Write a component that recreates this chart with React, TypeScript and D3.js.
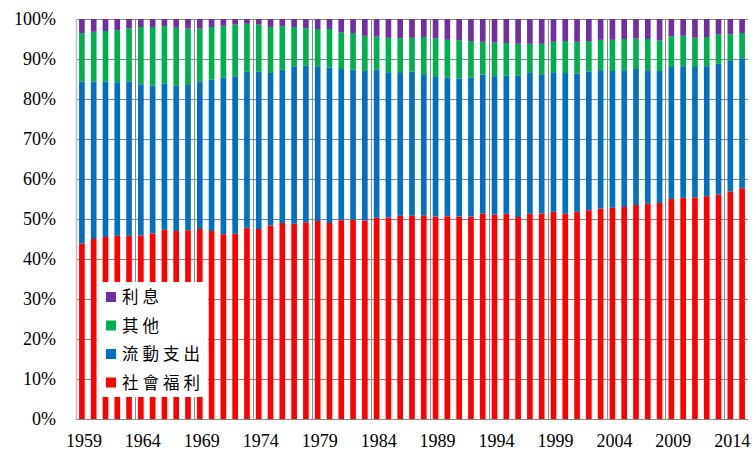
import React from 'react';
import * as d3 from 'd3';

const W = 755;
const H = 450;
const M = { top: 19, right: 7, bottom: 31, left: 76 };

const years = d3.range(1959, 2016);

// share of total spending, %
const welfare = [
  43.9, 45.0, 45.5, 45.8, 45.8, 45.9, 46.4, 47.3, 47.0, 47.2,
  47.5, 47.0, 46.2, 46.3, 47.8, 47.5, 48.4, 49.0, 48.8, 49.2,
  49.5, 49.0, 49.7, 49.8, 49.6, 50.3, 50.4, 50.8, 50.8, 50.8,
  50.6, 50.7, 50.6, 50.6, 51.4, 51.1, 51.3, 50.5, 51.3, 51.4,
  51.8, 51.3, 51.8, 52.2, 52.6, 52.8, 53.0, 53.5, 53.8, 54.0,
  55.0, 55.3, 55.4, 55.7, 56.1, 56.9, 57.7,
];
const current = [
  40.5, 39.4, 38.9, 38.4, 38.5, 37.8, 37.0, 36.5, 36.3, 36.3,
  36.9, 37.8, 39.1, 39.4, 39.0, 39.3, 38.1, 38.3, 39.4, 39.2,
  38.7, 38.9, 37.8, 37.5, 37.4, 37.0, 36.3, 35.7, 36.0, 35.4,
  34.9, 34.6, 34.5, 34.7, 34.7, 34.6, 34.5, 35.3, 35.4, 34.8,
  34.9, 35.2, 34.6, 34.7, 34.6, 34.2, 34.2, 34.0, 33.4, 33.0,
  33.0, 32.9, 32.6, 32.5, 32.7, 32.6, 32.5,
];
const other = [
  12.1, 12.4, 12.6, 13.0, 13.3, 14.3, 14.6, 14.4, 14.5, 14.1,
  13.2, 13.2, 13.0, 12.9, 12.0, 11.8, 11.5, 10.9, 9.8, 9.3,
  9.3, 9.6, 9.1, 9.2, 8.8, 8.3, 8.6, 8.7, 8.5, 9.3,
  9.7, 9.5, 9.6, 9.2, 8.2, 8.4, 8.2, 8.0, 7.1, 7.6,
  7.6, 8.0, 7.9, 7.6, 7.6, 7.8, 7.8, 7.6, 7.8, 7.6,
  7.7, 7.6, 7.3, 7.3, 7.3, 6.7, 6.3,
];
const interest = [
  3.5, 3.2, 3.0, 2.8, 2.4, 2.0, 2.0, 1.8, 2.2, 2.4,
  2.4, 2.0, 1.7, 1.4, 1.2, 1.4, 2.0, 1.8, 2.0, 2.3,
  2.5, 2.5, 3.4, 3.5, 4.2, 4.4, 4.7, 4.8, 4.7, 4.5,
  4.8, 5.2, 5.3, 5.5, 5.7, 5.9, 6.0, 6.2, 6.2, 6.2,
  5.7, 5.5, 5.7, 5.5, 5.2, 5.2, 5.0, 4.9, 5.0, 5.4,
  4.3, 4.2, 4.7, 4.5, 3.9, 3.8, 3.5,
];

const seriesKeys = ['welfare', 'current', 'other', 'interest'];
const seriesNames = ['社會福利', '流動支出', '其他', '利息'];
const seriesColors = ['#FF0000', '#0070C0', '#00B050', '#7030A0'];

const yTicks = d3.range(0, 11).map((d) => d / 10);
const labelYears = years.filter((y) => (y - 1959) % 5 === 0);

const serif = '"Liberation Serif", "Times New Roman", serif';

export default function App() {
  const innerW = W - M.left - M.right;
  const y0 = M.top + 400;
  const pad = 0.52;

  const x = d3
    .scaleBand<number>()
    .domain(years)
    .range([M.left, M.left + innerW])
    .paddingInner(pad)
    .paddingOuter(pad / 2);
  const y = d3.scaleLinear().domain([0, 1]).range([y0, M.top]);
  const step = x.step();

  const rows = years.map((yr, i) => {
    const tot = welfare[i] + current[i] + other[i] + interest[i];
    return {
      year: yr,
      welfare: welfare[i] / tot,
      current: current[i] / tot,
      other: other[i] / tot,
      interest: interest[i] / tot,
    };
  });
  const stacked = d3.stack<any>().keys(seriesKeys)(rows);
  const fmt = d3.format('.0%');

  // vertical separators every 5 categories
  const vLines = years.filter((yr, i) => i > 0 && i % 5 === 0);

  const legendX = 97;
  const legendY = 282;
  const rowH = 28.5;

  return (
    <svg
      width={W}
      height={H}
      style={{ position: 'absolute', left: 0, top: 0, background: '#fff' }}
    >
      {/* horizontal gridlines */}
      {yTicks.map((t) => (
        <line
          key={'h' + t}
          x1={M.left}
          x2={M.left + innerW}
          y1={Math.round(y(t)) + 0.5}
          y2={Math.round(y(t)) + 0.5}
          stroke="#8a8a8a"
          strokeWidth={1}
        />
      ))}
      {/* vertical gridlines */}
      {vLines.map((yr) => {
        const vx = Math.round((x(yr) as number) - (step * pad) / 2) + 0.5;
        return (
          <line key={'v' + yr} x1={vx} x2={vx} y1={M.top} y2={y0} stroke="#8a8a8a" strokeWidth={1} />
        );
      })}
      <line x1={M.left + 0.5} x2={M.left + 0.5} y1={M.top} y2={y0} stroke="#bfbfbf" strokeWidth={1.5} />

      {/* bars */}
      {stacked.map((s, si) => (
        <g key={s.key} fill={seriesColors[si]}>
          {s.map((d: any, i: number) => (
            <rect
              key={i}
              x={x(years[i])}
              y={y(d[1])}
              width={x.bandwidth()}
              height={y(d[0]) - y(d[1])}
            />
          ))}
        </g>
      ))}

      {/* y labels */}
      {yTicks.map((t) => (
        <text
          key={'yl' + t}
          x={56}
          y={y(t) + 6}
          textAnchor="end"
          fontFamily={serif}
          fontSize={18}
          fill="#000"
        >
          {fmt(t)}
        </text>
      ))}

      {/* x labels */}
      {labelYears.map((yr) => (
        <text
          key={'xl' + yr}
          x={(x(yr) as number) + x.bandwidth() / 2 + 2}
          y={447}
          textAnchor="middle"
          fontFamily={serif}
          fontSize={18}
          fill="#000"
        >
          {yr}
        </text>
      ))}

      {/* legend */}
      <rect x={legendX} y={legendY} width={111} height={115} fill="#fff" />
      {seriesNames
        .map((name, i) => ({ name, color: seriesColors[i] }))
        .reverse()
        .map((item, i) => {
          const cy = legendY + 15 + i * rowH;
          return (
            <g key={item.name}>
              <rect x={106} y={cy - 5} width={10} height={10} fill={item.color} />
              <text
                x={122}
                y={cy + 6}
                fontFamily='"Noto Sans CJK TC", "Noto Sans CJK SC", sans-serif'
                fontSize={16.5}
                letterSpacing={4}
                fill="#000"
              >
                {item.name}
              </text>
            </g>
          );
        })}
    </svg>
  );
}
